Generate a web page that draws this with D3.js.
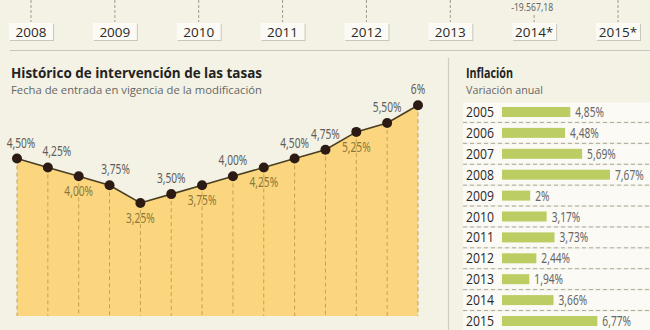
<!DOCTYPE html>
<html><head><meta charset="utf-8">
<script src="https://cdn.jsdelivr.net/npm/d3@7"></script>
<style>
html,body{margin:0;padding:0;background:#f4f2e5;}
svg{display:block;}
</style></head>
<body>
<svg id="c" width="650" height="330"></svg>
<script>
// ---- data ----
const timelineYears = ["2008","2009","2010","2011","2012","2013","2014*","2015*"];
const timelineNote = {year:"2014*", text:"-19.567,18"};

const rateDates = ["d01","d02","d03","d04","d05","d06","d07","d08","d09","d10","d11","d12","d13","d14"];
const rateValues = [4.50,4.25,4.00,3.75,3.25,3.50,3.75,4.00,4.25,4.50,4.75,5.25,5.50,6.00];
const rateLabels = ["4,50%","4,25%","4,00%","3,75%","3,25%","3,50%","3,75%","4,00%","4,25%","4,50%","4,75%","5,25%","5,50%","6%"];
const ratePlacement = ["up","up","down","up","down","up","down","up","down","up","up","down","up","up"];

const inflYears = ["2005","2006","2007","2008","2009","2010","2011","2012","2013","2014","2015"];
const inflValues = [4.85,4.48,5.69,7.67,2.00,3.17,3.73,2.44,1.94,3.66,6.77];
const inflLabels = ["4,85%","4,48%","5,69%","7,67%","2%","3,17%","3,73%","2,44%","1,94%","3,66%","6,77%"];

const sans = "'Open Sans','Noto Sans',sans-serif";
const narrow = "'Noto Sans','Open Sans',sans-serif";
// approximate condensed width of a percentage label
const labW = s => [...s].reduce((a,c)=>a+(c==="%"?8.5:c===","?2.8:5.8),0);

const svg = d3.select("#c");

// ---- top timeline ----
const xt = d3.scalePoint().domain(timelineYears).range([31,618]);
const tl = svg.append("g");
tl.selectAll("line.tick").data(timelineYears).join("line")
  .attr("x1",d=>xt(d)).attr("x2",d=>xt(d))
  .attr("y1",d=>d===timelineNote.year?15:0).attr("y2",22)
  .attr("stroke","#9a9a92").attr("stroke-dasharray","3,2").attr("stroke-width",1);
tl.append("text").attr("x",xt(timelineNote.year)-2).attr("y",11)
  .attr("text-anchor","middle").attr("font-family",narrow).attr("font-size",11)
  .attr("fill","#666").attr("textLength",42).attr("lengthAdjust","spacingAndGlyphs").text(timelineNote.text);
const boxes = tl.selectAll("g.box").data(timelineYears).join("g")
  .attr("transform",d=>`translate(${xt(d)-22},23)`);
boxes.append("rect").attr("x",1).attr("y",1).attr("width",44).attr("height",17).attr("fill","#c9c7bd");
boxes.append("rect").attr("width",44).attr("height",17).attr("fill","#fbfaf4");
boxes.append("text").attr("x",22).attr("y",13.5).attr("text-anchor","middle")
  .attr("font-family",sans).attr("font-size",13.5).attr("fill","#2a2a2a").text(d=>d);
svg.append("line").attr("x1",10).attr("x2",650).attr("y1",50.5).attr("y2",50.5)
  .attr("stroke","#c8c6bb").attr("stroke-width",1.2);

// ---- left chart titles ----
svg.append("text").attr("x",11).attr("y",78).attr("font-family",sans).attr("font-weight","bold")
  .attr("font-size",13.5).attr("fill","#222").attr("textLength",251).attr("lengthAdjust","spacingAndGlyphs")
  .text("Histórico de intervención de las tasas");
svg.append("text").attr("x",11).attr("y",94).attr("font-family",sans)
  .attr("font-size",11.5).attr("fill","#666").attr("textLength",251).attr("lengthAdjust","spacingAndGlyphs")
  .text("Fecha de entrada en vigencia de la modificación");

// ---- rate chart ----
const x = d3.scalePoint().domain(rateDates).range([17,418]);
const y = d3.scaleLinear().domain([3.25,5.50]).range([203,123]);
const bottom = 316;
const pts = rateDates.map((d,i)=>({d, v:rateValues[i], lab:rateLabels[i], pl:ratePlacement[i]}));

svg.append("path").datum(pts)
  .attr("d", d3.area().x(p=>x(p.d)).y0(bottom).y1(p=>y(p.v)))
  .attr("fill","#fcd67f");
svg.selectAll("line.drop").data(pts).join("line")
  .attr("x1",p=>x(p.d)).attr("x2",p=>x(p.d)).attr("y1",p=>y(p.v)).attr("y2",bottom)
  .attr("stroke","#c9a04a").attr("stroke-width",1).attr("stroke-dasharray","4,3");
svg.append("path").datum(pts)
  .attr("d", d3.line().x(p=>x(p.d)).y(p=>y(p.v)))
  .attr("fill","none").attr("stroke","#4a3e22").attr("stroke-width",1.6);
svg.selectAll("circle.pt").data(pts).join("circle")
  .attr("cx",p=>x(p.d)).attr("cy",p=>y(p.v)).attr("r",5).attr("fill","#2b1b14");
svg.selectAll("text.lab").data(pts).join("text")
  .attr("x",(p,i)=>x(p.d)+(i===0?4:i===1?9:i===3?6:0))
  .attr("y",p=>p.pl==="up"?y(p.v)-11:y(p.v)+20)
  .attr("text-anchor","middle").attr("font-family",narrow).attr("font-size",14)
  .attr("textLength",p=>labW(p.lab)).attr("lengthAdjust","spacingAndGlyphs")
  .attr("fill",p=>p.pl==="up"?"#5e5e5a":"#8a7838")
  .text(p=>p.lab);

// ---- right panel: inflation ----
svg.append("line").attr("x1",448.5).attr("x2",448.5).attr("y1",58).attr("y2",330)
  .attr("stroke","#cfcdc2").attr("stroke-width",1.2);
svg.append("text").attr("x",466).attr("y",78).attr("font-family",sans).attr("font-weight","bold")
  .attr("font-size",13.5).attr("fill","#222").attr("textLength",47).attr("lengthAdjust","spacingAndGlyphs")
  .text("Inflación");
svg.append("text").attr("x",466).attr("y",94).attr("font-family",sans)
  .attr("font-size",11.5).attr("fill","#666").attr("textLength",77).attr("lengthAdjust","spacingAndGlyphs")
  .text("Variación anual");

const ry = d3.scalePoint().domain(inflYears).range([112,321]);
const step = ry.step();
const bx = d3.scaleLinear().domain([0,7.67]).range([502,610]);
const rows = svg.selectAll("g.row").data(inflYears.map((yr,i)=>({yr,v:inflValues[i],lab:inflLabels[i]})))
  .join("g").attr("transform",d=>`translate(0,${ry(d.yr)})`);
rows.append("rect").attr("x",463).attr("y",-step/2+1).attr("width",187).attr("height",step-2).attr("fill","#fbfaf5");
rows.append("line").attr("x1",463).attr("x2",650).attr("y1",step/2).attr("y2",step/2)
  .attr("stroke","#a9a79f").attr("stroke-dasharray","4,3").attr("stroke-width",1);
rows.append("text").attr("x",466).attr("y",5).attr("font-family",sans).attr("font-size",14)
  .attr("fill","#2a2a2a").attr("textLength",28).attr("lengthAdjust","spacingAndGlyphs").text(d=>d.yr);
rows.append("rect").attr("x",bx(0)).attr("y",-5).attr("width",d=>bx(d.v)-bx(0)).attr("height",10).attr("fill","#bccd63");
rows.append("text").attr("x",d=>bx(d.v)+5).attr("y",5).attr("font-family",narrow).attr("font-size",14)
  .attr("textLength",d=>labW(d.lab)).attr("lengthAdjust","spacingAndGlyphs")
  .attr("fill","#666").text(d=>d.lab);
</script>
</body></html>
